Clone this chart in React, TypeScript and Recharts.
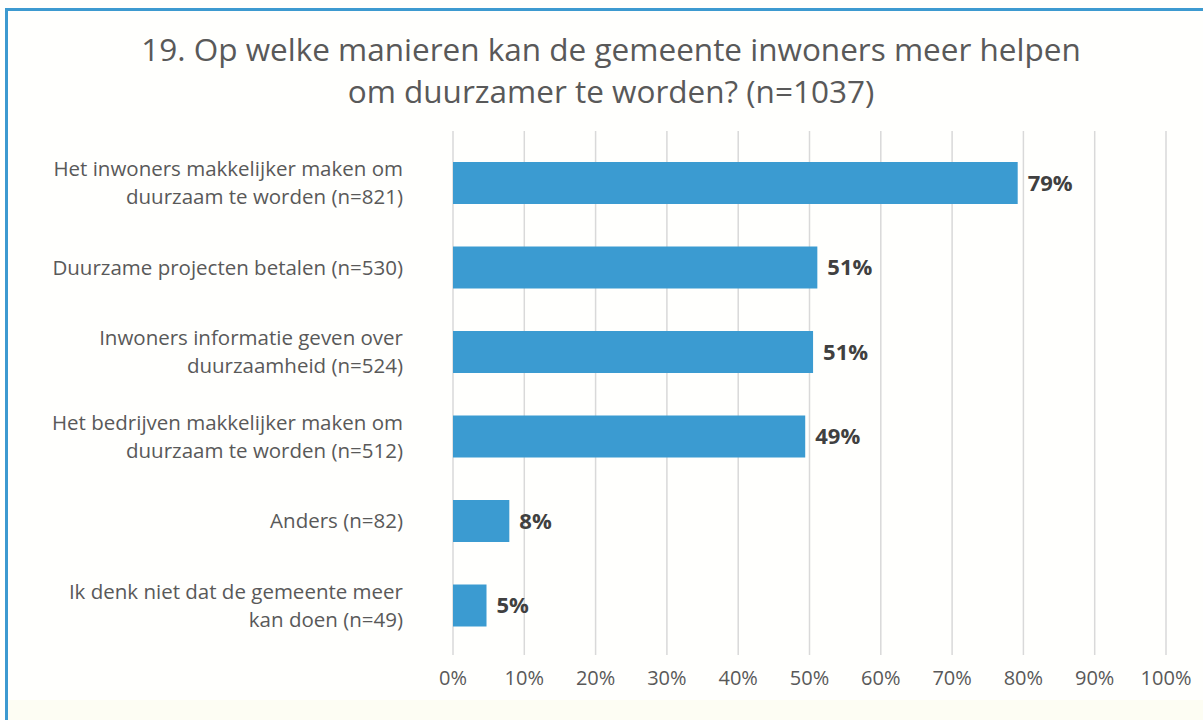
import React from 'react';
import { BarChart, Bar, XAxis, YAxis, CartesianGrid, LabelList } from 'recharts';

const categories = [
  'Het inwoners makkelijker maken om\nduurzaam te worden (n=821)',
  'Duurzame projecten betalen (n=530)',
  'Inwoners informatie geven over\nduurzaamheid (n=524)',
  'Het bedrijven makkelijker maken om\nduurzaam te worden (n=512)',
  'Anders (n=82)',
  'Ik denk niet dat de gemeente meer\nkan doen (n=49)'
];
const percentages = [79.2, 51.1, 50.5, 49.4, 7.9, 4.7];
const xTicks = [0, 10, 20, 30, 40, 50, 60, 70, 80, 90, 100];

const titleLines = [
  '19. Op welke manieren kan de gemeente inwoners meer helpen',
  'om duurzamer te worden? (n=1037)'
];

const data = categories.map((name, i) => ({ name, value: percentages[i] }));

const FONT = '"Open Sans", sans-serif';
const BAR_COLOR = '#3b9bd1';
const TEXT_COLOR = '#595959';

const CategoryTick = (props: any) => {
  const { x, y, payload } = props;
  const lines: string[] = String(payload.value).split('\n');
  const lineHeight = 28;
  const startY = y - ((lines.length - 1) * lineHeight) / 2;
  return (
    <text x={x} y={startY} textAnchor="end" fill={TEXT_COLOR} fontSize={20.5} fontFamily={FONT}>
      {lines.map((line, i) => (
        <tspan key={i} x={x} y={startY + i * lineHeight} dy="0.35em">
          {line}
        </tspan>
      ))}
    </text>
  );
};

const App: React.FC = () => {
  return (
    <div
      style={{
        position: 'absolute',
        left: 0,
        top: 0,
        width: 1203,
        height: 720,
        overflow: 'hidden',
        background: '#fffffd',
        fontFamily: FONT
      }}
    >
      <div
        style={{
          position: 'absolute',
          left: 8,
          top: 700,
          width: 1203,
          height: 20,
          background: '#fdfdf3'
        }}
      />
      <div
        style={{
          position: 'absolute',
          left: 5,
          top: 8,
          width: 1400,
          height: 800,
          borderLeft: '3px solid #3d9ad0',
          borderTop: '3px solid #3d9ad0'
        }}
      />
      <div
        style={{
          position: 'absolute',
          left: 0,
          top: 28,
          width: 1222,
          textAlign: 'center',
          color: TEXT_COLOR,
          fontSize: 31.5,
          lineHeight: '42px'
        }}
      >
        {titleLines.map((t, i) => (
          <div key={i}>{t}</div>
        ))}
      </div>
      <div style={{ position: 'absolute', left: 0, top: 0 }}>
        <BarChart
          width={1203}
          height={720}
          data={data}
          layout="vertical"
          margin={{ top: 131, right: 37, bottom: 23, left: 0 }}
          barSize={42}
        >
          <CartesianGrid horizontal={false} stroke="#d9d9d9" strokeWidth={1.5} />
          <XAxis
            type="number"
            domain={[0, 100]}
            ticks={xTicks}
            tickFormatter={(v: number) => `${v}%`}
            axisLine={false}
            tickLine={false}
            tickMargin={10}
            height={42}
            tick={{ fill: TEXT_COLOR, fontSize: 20, fontFamily: FONT }}
          />
          <YAxis
            type="category"
            dataKey="name"
            width={453}
            axisLine={false}
            tickLine={false}
            tickMargin={44}
            padding={{ top: 10, bottom: 7 }}
            tick={<CategoryTick />}
          />
          <Bar dataKey="value" fill={BAR_COLOR} isAnimationActive={false}>
            <LabelList
              dataKey="value"
              position="right"
              offset={10}
              formatter={(v: any) => `${Math.round(Number(v))}%`}
              style={{ fill: '#404040', fontSize: 22, fontWeight: 700, fontFamily: FONT }}
            />
          </Bar>
        </BarChart>
      </div>
    </div>
  );
};

export default App;
